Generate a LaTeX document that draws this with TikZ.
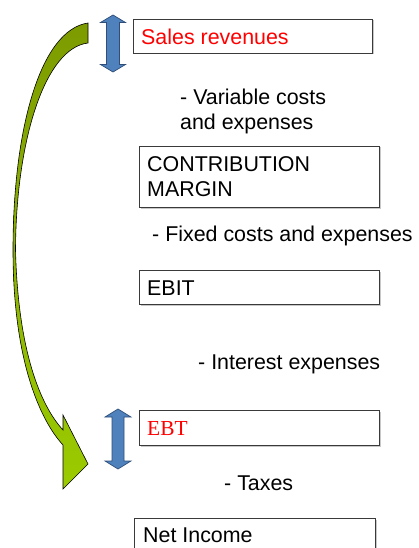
\documentclass[tikz,border=0pt]{standalone}
\usepackage{fontspec}
\setmainfont{Liberation Sans}
\newfontfamily\serifface{Liberation Serif}
\definecolor{boxline}{HTML}{3A3A3A}
\definecolor{boxshadow}{HTML}{C8C8C8}
\definecolor{arrowblue}{HTML}{4F81BD}
\definecolor{arrowblueline}{HTML}{2F4F7A}
\definecolor{greentop}{HTML}{7D9B00}
\definecolor{greenbottom}{HTML}{9BCB00}
\definecolor{salesred}{HTML}{FF0000}
\tikzset{
  box/.style={draw=boxline, line width=0.9pt, fill=white, inner sep=0pt, anchor=north west},
  lbl/.style={anchor=base west, inner sep=0pt, font=\fontsize{21.4}{25}\selectfont},
  bluearrow/.style={fill=arrowblue, draw=arrowblueline, line width=0.7pt, line join=miter},
  greenarrow/.style={top color=greentop, bottom color=greenbottom, draw=black, line width=0.6pt, line join=miter}
}
\begin{document}
\begin{tikzpicture}[x=1pt,y=-1pt]
\useasboundingbox (0,0) rectangle (419,548);
\clip (0,0) rectangle (419,548);
% shadows
\fill[boxshadow] (134.5,20.5) rectangle (373.5,54.5);
\fill[boxshadow] (140.5,147.5) rectangle (380.5,208.5);
\fill[boxshadow] (140.5,271.5) rectangle (380.5,305.5);
\fill[boxshadow] (140.5,411.5) rectangle (380.5,446.5);
\fill[boxshadow] (135.5,519.5) rectangle (376.5,560);
% boxes
\node[box, minimum width=239pt, minimum height=34pt] (sales) at (133,19) {};
\node[box, minimum width=240pt, minimum height=61pt] (cm) at (139,146) {};
\node[box, minimum width=240pt, minimum height=34pt] (ebit) at (139,270) {};
\node[box, minimum width=240pt, minimum height=35pt] (ebt) at (139,410) {};
\node[box, minimum width=241pt, minimum height=40pt] (ni) at (134,518) {};
% texts
\node[lbl, text=salesred] (tsales) at (141,44.5) {Sales revenues};
\node[lbl] (tvar1) at (180,105) {- Variable costs};
\node[lbl] (tvar2) at (180,130) {and expenses};
\node[lbl] (tcm1) at (147,171.7) {CONTRIBUTION};
\node[lbl] (tcm2) at (147,196.7) {MARGIN};
\node[lbl] (tfix) at (152,241.7) {- Fixed costs and expenses};
\node[lbl] (tebit) at (147,295) {EBIT};
\node[lbl] (tint) at (198,369) {- Interest expenses};
\node[lbl, text=salesred, font=\serifface\fontsize{21.4}{25}\selectfont] (tebt) at (147,435) {EBT};
\node[lbl] (ttax) at (224,490) {- Taxes};
\node[lbl] (tni) at (143,542) {Net Income};
% blue double arrows
\draw[bluearrow] (113,15) -- (125.5,22.5) -- (119.5,22.5) -- (119.5,64.5) -- (125.5,64.5)
  -- (113,72) -- (100.5,64.5) -- (106.5,64.5) -- (106.5,22.5) -- (100.5,22.5) -- cycle;
\draw[bluearrow] (118,409) -- (131,417) -- (124,417) -- (124,461) -- (131,461)
  -- (118,469) -- (105,461) -- (112,461) -- (112,417) -- (105,417) -- cycle;
% green curved arrow
\shade[greenarrow] (88,23) .. controls (40,30) and (13,130) .. (13,250)
  .. controls (13,360) and (40,420) .. (63,445)
  -- (63,489) -- (88,464) -- (63,415) -- (63,430)
  .. controls (40,405) and (18,350) .. (15.5,250)
  .. controls (16,140) and (45,48) .. (88,43) -- cycle;
\end{tikzpicture}
\end{document}
